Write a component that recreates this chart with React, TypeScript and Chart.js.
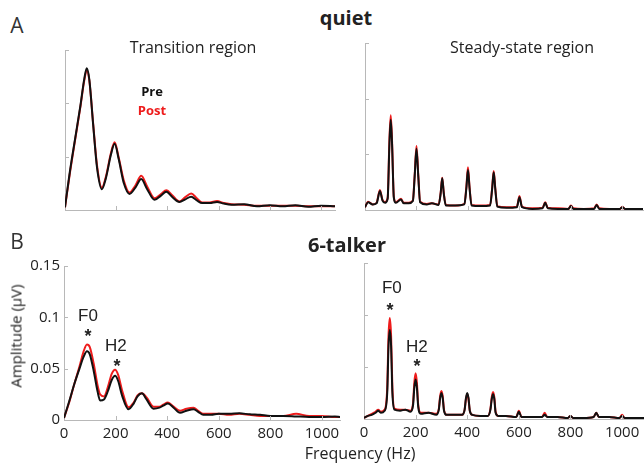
import React, { useEffect, useRef } from "react";
import { Chart, registerables } from "chart.js";
Chart.register(...registerables);

// ---------- data ----------
// A: quiet, transition region (arbitrary amplitude units)
const tlFreq = [0,20,40,60,75,85,95,110,125,144,160,180,194,210,230,252,275,298,320,350,375,396,420,447,470,493,515,536,565,594,620,650,700,750,800,850,900,950,1000,1055];
const tlPre = [0.05,0.75,1.35,1.95,2.45,2.66,2.45,1.6,0.8,0.39,0.6,1.05,1.24,0.95,0.5,0.3,0.42,0.58,0.4,0.19,0.27,0.34,0.24,0.15,0.2,0.25,0.18,0.13,0.13,0.15,0.12,0.1,0.11,0.07,0.09,0.07,0.09,0.06,0.08,0.07];
const tlPost = [0.05,0.72,1.33,1.93,2.42,2.62,2.43,1.62,0.84,0.42,0.63,1.08,1.27,0.98,0.55,0.33,0.46,0.64,0.45,0.22,0.3,0.37,0.27,0.16,0.24,0.31,0.22,0.14,0.14,0.17,0.13,0.11,0.1,0.08,0.08,0.08,0.08,0.07,0.07,0.07];

// A: quiet, steady-state region
const trFreq = [0,12,30,45,58,68,78,88,95,100,105,112,120,140,150,170,186,193,200,207,214,240,260,286,294,300,306,314,350,386,394,400,406,414,450,486,494,500,506,514,550,590,600,610,650,690,700,710,750,790,800,810,850,890,900,910,950,990,1000,1010,1050,1080];
const trPre = [0.05,0.14,0.1,0.12,0.34,0.17,0.13,0.2,1.2,1.62,1.2,0.22,0.13,0.19,0.12,0.12,0.16,0.6,1.1,0.6,0.14,0.1,0.12,0.09,0.3,0.57,0.3,0.08,0.08,0.1,0.4,0.72,0.4,0.08,0.07,0.08,0.38,0.68,0.38,0.06,0.04,0.05,0.23,0.05,0.02,0.03,0.13,0.03,0.02,0.02,0.07,0.02,0.02,0.02,0.09,0.02,0.02,0.02,0.05,0.02,0.02,0.02];
const trPost = [0.05,0.15,0.1,0.13,0.36,0.18,0.14,0.22,1.27,1.7,1.25,0.24,0.14,0.2,0.13,0.13,0.17,0.63,1.15,0.63,0.15,0.11,0.12,0.1,0.31,0.58,0.31,0.09,0.08,0.11,0.43,0.77,0.42,0.09,0.08,0.09,0.4,0.7,0.4,0.07,0.05,0.06,0.25,0.06,0.03,0.04,0.14,0.04,0.03,0.02,0.08,0.03,0.02,0.03,0.1,0.03,0.02,0.02,0.06,0.02,0.02,0.02];

// B: 6-talker, transition region (µV)
const blFreq = [0,20,40,60,75,89,100,115,130,140,155,170,185,198,210,225,250,270,285,302,320,347,370,385,403,425,450,475,502,520,540,570,600,640,680,720,760,800,850,900,950,1000,1050,1070];
const blPre = [0.002,0.018,0.035,0.05,0.061,0.067,0.064,0.048,0.028,0.019,0.02,0.028,0.039,0.043,0.038,0.024,0.0105,0.016,0.023,0.026,0.02,0.011,0.012,0.014,0.016,0.012,0.007,0.009,0.0105,0.008,0.005,0.005,0.006,0.006,0.0065,0.0055,0.005,0.004,0.004,0.0035,0.003,0.003,0.0035,0.003];
const blPost = [0.002,0.017,0.035,0.052,0.066,0.0735,0.071,0.055,0.034,0.025,0.023,0.032,0.045,0.049,0.044,0.029,0.0125,0.017,0.024,0.026,0.022,0.013,0.013,0.015,0.017,0.013,0.009,0.011,0.012,0.009,0.006,0.006,0.006,0.005,0.006,0.005,0.004,0.004,0.004,0.006,0.004,0.004,0.003,0.003];

// B: 6-talker, steady-state region (µV)
const brFreq = [0,15,30,45,55,65,80,90,95,100,105,110,118,140,160,180,190,195,200,205,210,220,250,280,290,295,300,305,310,320,350,380,390,395,400,405,410,420,450,480,490,495,500,505,510,520,550,590,600,610,650,690,700,710,750,790,800,810,850,890,900,910,950,990,1000,1010,1050,1085];
const brPre = [0.001,0.003,0.004,0.006,0.008,0.006,0.008,0.025,0.07,0.0855,0.07,0.025,0.009,0.008,0.009,0.007,0.013,0.03,0.038,0.03,0.012,0.005,0.006,0.004,0.009,0.02,0.025,0.02,0.008,0.004,0.004,0.004,0.009,0.02,0.025,0.02,0.008,0.004,0.003,0.003,0.009,0.019,0.024,0.019,0.006,0.003,0.003,0.002,0.007,0.002,0.002,0.002,0.004,0.002,0.002,0.001,0.003,0.001,0.001,0.002,0.006,0.002,0.002,0.001,0.003,0.001,0.001,0.001];
const brPost = [0.001,0.003,0.005,0.007,0.009,0.007,0.009,0.03,0.08,0.097,0.08,0.03,0.01,0.009,0.009,0.008,0.015,0.035,0.044,0.035,0.014,0.006,0.006,0.005,0.01,0.022,0.027,0.022,0.009,0.004,0.004,0.004,0.009,0.019,0.024,0.019,0.008,0.004,0.003,0.003,0.01,0.021,0.026,0.021,0.007,0.003,0.003,0.002,0.008,0.002,0.002,0.002,0.006,0.002,0.002,0.001,0.003,0.001,0.001,0.002,0.006,0.002,0.002,0.001,0.004,0.001,0.001,0.001];

const seriesNames = ["Pre", "Post"];
const xTickStep = 200;
const ampTickStep = 0.05;

// ---------- styles ----------
const PRE_COLOR = "#111111";
const POST_COLOR = "#ee1c1c";
const AXIS_COLOR = "#b8b8b8";
const TICK_FONT = { family: "'Open Sans', sans-serif", size: 15 };

type Note = { text: string; x: number; y: number; color: string; font: string };

const starFont = "bold 18px 'Liberation Sans', Arial, sans-serif";
const labFont = "17px 'Liberation Sans', Arial, sans-serif";
const legFont = "bold 13px 'Open Sans', sans-serif";

const tlNotes: Note[] = [
  { text: seriesNames[0], x: 340, y: 2.14, color: PRE_COLOR, font: legFont },
  { text: seriesNames[1], x: 340, y: 1.78, color: POST_COLOR, font: legFont },
];
const blNotes: Note[] = [
  { text: "F0", x: 93, y: 0.0966, color: "#222", font: labFont },
  { text: "*", x: 93, y: 0.0755, color: "#222", font: starFont },
  { text: "H2", x: 201, y: 0.0669, color: "#222", font: labFont },
  { text: "*", x: 205, y: 0.0468, color: "#222", font: starFont },
];
const brNotes: Note[] = [
  { text: "F0", x: 108, y: 0.121, color: "#222", font: labFont },
  { text: "*", x: 101, y: 0.099, color: "#222", font: starFont },
  { text: "H2", x: 205, y: 0.0644, color: "#222", font: labFont },
  { text: "*", x: 205, y: 0.0452, color: "#222", font: starFont },
];

function notesPlugin(notes: Note[]) {
  return {
    id: "notes",
    afterDatasetsDraw(chart: any) {
      const { ctx, scales } = chart;
      ctx.save();
      notes.forEach((n) => {
        ctx.font = n.font;
        ctx.fillStyle = n.color;
        ctx.textAlign = "center";
        ctx.textBaseline = "alphabetic";
        ctx.fillText(n.text, scales.x.getPixelForValue(n.x), scales.y.getPixelForValue(n.y));
      });
      ctx.restore();
    },
  };
}

const innerTicks = {
  id: "innerTicks",
  afterDraw(chart: any) {
    const { ctx, scales, chartArea } = chart;
    const x = scales.x;
    const y = scales.y;
    ctx.save();
    ctx.strokeStyle = AXIS_COLOR;
    ctx.lineWidth = 1;
    ctx.beginPath();
    x.ticks.forEach((t: any) => {
      if (t.value === 0) return;
      const px = Math.round(x.getPixelForValue(t.value)) + 0.5;
      ctx.moveTo(px, chartArea.bottom);
      ctx.lineTo(px, chartArea.bottom - 4);
    });
    y.ticks.forEach((t: any) => {
      if (t.value === 0) return;
      const py = Math.round(y.getPixelForValue(t.value)) + 0.5;
      ctx.moveTo(chartArea.left, py);
      ctx.lineTo(chartArea.left + 4, py);
    });
    ctx.stroke();
    ctx.restore();
  },
};

type PanelProps = {
  freqs: number[];
  pre: number[];
  post: number[];
  xMax: number;
  yMax: number;
  yStep: number;
  showX: boolean;
  showY: boolean;
  notes: Note[];
  box: { left: number; top: number; width: number; height: number };
  pad: { left: number; top: number; right: number; bottom: number };
  yWidth: number;
  xHeight: number;
};

function Panel(p: PanelProps) {
  const ref = useRef<HTMLCanvasElement | null>(null);
  useEffect(() => {
    if (!ref.current) return;
    const chart = new Chart(ref.current, {
      type: "line",
      data: {
        datasets: [
          {
            label: seriesNames[0],
            data: p.freqs.map((f, i) => ({ x: f, y: p.pre[i] })),
            borderColor: PRE_COLOR,
            borderWidth: 2,
            pointRadius: 0,
            cubicInterpolationMode: "monotone",
          },
          {
            label: seriesNames[1],
            data: p.freqs.map((f, i) => ({ x: f, y: p.post[i] })),
            borderColor: POST_COLOR,
            borderWidth: 2,
            pointRadius: 0,
            cubicInterpolationMode: "monotone",
          },
        ],
      },
      options: {
        animation: false,
        responsive: true,
        maintainAspectRatio: false,
        layout: { padding: p.pad },
        plugins: { legend: { display: false }, tooltip: { enabled: false } },
        scales: {
          x: {
            type: "linear",
            min: 0,
            max: p.xMax,
            grid: { display: false, drawTicks: false },
            border: { display: true, color: AXIS_COLOR, width: 1 },
            ticks: {
              display: p.showX,
              stepSize: xTickStep,
              includeBounds: false,
              padding: 5,
              color: "#222",
              font: TICK_FONT,
              callback: (v: any) => String(v),
            },
            afterFit: (s: any) => {
              s.height = p.xHeight;
            },
          },
          y: {
            type: "linear",
            min: 0,
            max: p.yMax,
            grid: { display: false, drawTicks: false },
            border: { display: true, color: AXIS_COLOR, width: 1 },
            ticks: {
              display: p.showY,
              stepSize: p.yStep,
              padding: 4,
              color: "#222",
              font: TICK_FONT,
              callback: (v: any) => String(Number(Number(v).toFixed(3))),
            },
            afterFit: (s: any) => {
              s.width = p.yWidth;
            },
          },
        },
      },
      plugins: [innerTicks, notesPlugin(p.notes)],
    } as any);
    return () => chart.destroy();
  }, []);
  return (
    <div style={{ position: "absolute", ...p.box }}>
      <canvas ref={ref} />
    </div>
  );
}

function Label(props: { text: string; x: number; y: number; style?: React.CSSProperties }) {
  return (
    <div
      style={{
        position: "absolute",
        left: props.x,
        top: props.y,
        transform: "translate(-50%, -50%)",
        whiteSpace: "nowrap",
        fontFamily: "'Open Sans', sans-serif",
        color: "#222",
        lineHeight: 1,
        ...props.style,
      }}
    >
      {props.text}
    </div>
  );
}

export default function App() {
  return (
    <div
      style={{
        position: "absolute",
        left: 0,
        top: 0,
        width: 644,
        height: 466,
        overflow: "hidden",
        background: "#fff",
      }}
    >
      <Panel
        freqs={tlFreq} pre={tlPre} post={tlPost}
        xMax={1055} yMax={3} yStep={1} showX={false} showY={false} notes={tlNotes}
        box={{ left: 55, top: 40, width: 290, height: 180 }}
        pad={{ left: 10, top: 10, right: 10, bottom: 10 }}
        yWidth={0} xHeight={0}
      />
      <Panel
        freqs={trFreq} pre={trPre} post={trPost}
        xMax={1080} yMax={3} yStep={1} showX={false} showY={false} notes={[]}
        box={{ left: 355, top: 33, width: 298, height: 187 }}
        pad={{ left: 10, top: 10, right: 10, bottom: 10 }}
        yWidth={0} xHeight={0}
      />
      <Panel
        freqs={blFreq} pre={blPre} post={blPost}
        xMax={1070} yMax={0.15} yStep={ampTickStep} showX={true} showY={true} notes={blNotes}
        box={{ left: 10, top: 253, width: 340, height: 200 }}
        pad={{ left: 10, top: 10, right: 10, bottom: 5 }}
        yWidth={44} xHeight={28}
      />
      <Panel
        freqs={brFreq} pre={brPre} post={brPost}
        xMax={1085} yMax={0.15} yStep={ampTickStep} showX={true} showY={false} notes={brNotes}
        box={{ left: 310, top: 253, width: 344, height: 200 }}
        pad={{ left: 10, top: 10, right: 10, bottom: 5 }}
        yWidth={44} xHeight={29}
      />
      <Label text="A" x={17} y={25} style={{ fontSize: 21, color: "#333" }} />
      <Label text="B" x={17} y={241} style={{ fontSize: 21, color: "#333" }} />
      <Label text="quiet" x={346} y={18} style={{ fontSize: 20, fontWeight: 700 }} />
      <Label text="6-talker" x={347} y={245} style={{ fontSize: 20, fontWeight: 700 }} />
      <Label text="Transition region" x={193} y={47} style={{ fontSize: 16 }} />
      <Label text="Steady-state region" x={522} y={47} style={{ fontSize: 16 }} />
      <Label text="Frequency (Hz)" x={360} y={453} style={{ fontSize: 16 }} />
      <Label
        text="Amplitude (µV)"
        x={16}
        y={336}
        style={{ fontSize: 15, transform: "translate(-50%, -50%) rotate(-90deg)" }}
      />
    </div>
  );
}
